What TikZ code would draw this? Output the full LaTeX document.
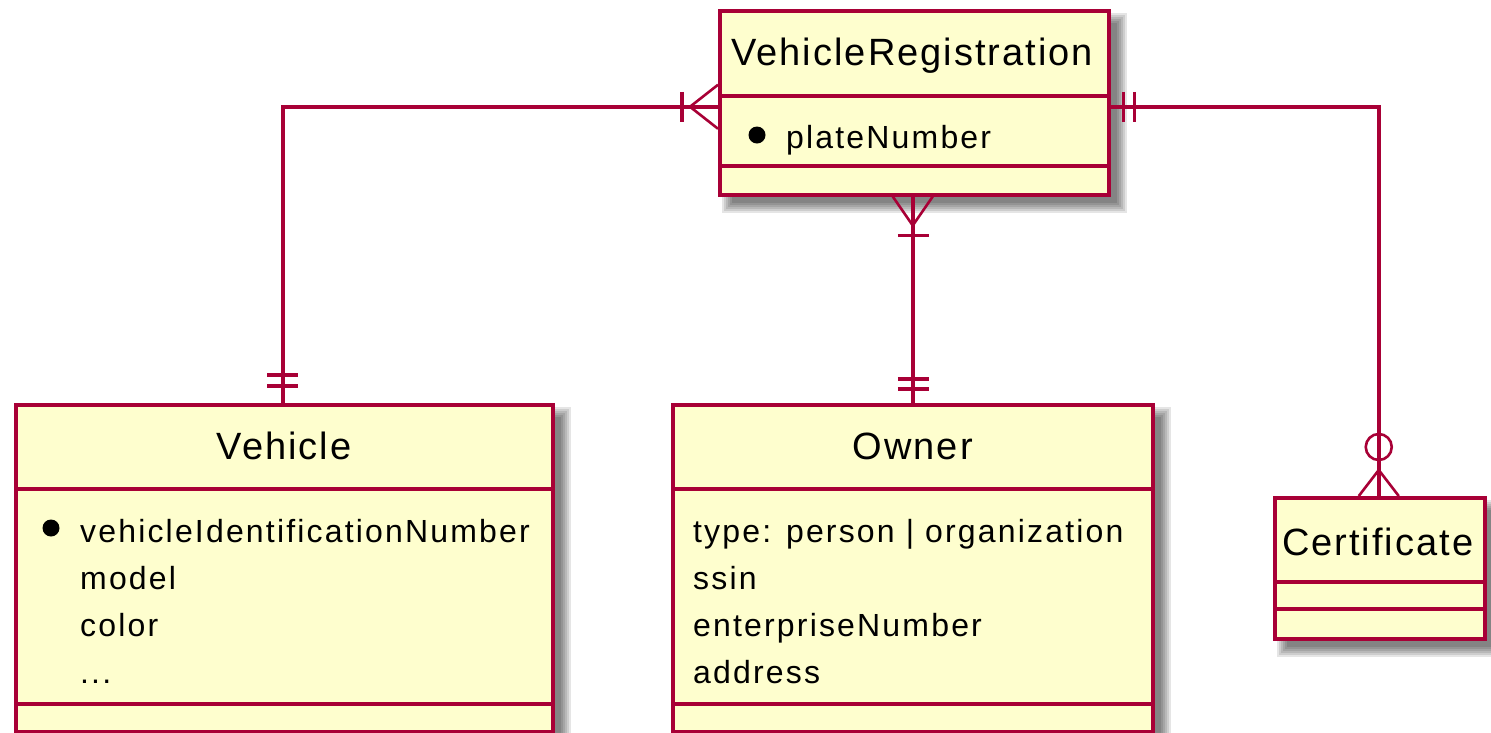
\documentclass[tikz,border=0pt]{standalone}
\usepackage{fontspec}
\setmainfont{Liberation Sans}
\newfontfamily\titlefont[LetterSpace=5.3]{Liberation Sans}
\newfontfamily\attrfont[LetterSpace=6.8]{Liberation Sans}
\usetikzlibrary{calc}
\definecolor{umlborder}{HTML}{A80036}
\definecolor{umlfill}{HTML}{FEFECE}
\pgfdeclarelayer{bg}
\pgfsetlayers{bg,main}
\tikzset{
  entity/.style={draw=umlborder, fill=umlfill, line width=3.5pt, inner sep=0pt,
    anchor=north west},
  sepline/.style={draw=umlborder, line width=3.5pt},
  etitle/.style={font=\titlefont\fontsize{38}{40}\selectfont, inner sep=0pt, anchor=base},
  eattr/.style={font=\attrfont\fontsize{32}{40}\selectfont, inner sep=0pt, anchor=base west},
  keydot/.style={fill=black, circle, inner sep=0pt, minimum size=17pt},
  rel/.style={draw=umlborder, line width=3.5pt},
  crowline/.style={draw=umlborder, line width=2.6pt},
  tick/.style={draw=umlborder, line width=3.5pt},
}
% soft drop shadow behind an entity box
\newcommand{\entityshadow}[1]{%
  \begin{pgfonlayer}{bg}
    \foreach \d in {-4,-2,0,2,4,6}
      \fill[black, opacity=0.1]
        ($(#1.north west)+(10-\d,10-\d)$) rectangle ($(#1.south east)+(10+\d,10+\d)$);
  \end{pgfonlayer}}
\begin{document}
\begin{tikzpicture}[x=1pt, y=-1pt]
\begin{pgfonlayer}{bg}
  \fill[white] (0,0) rectangle (1491,732);
\end{pgfonlayer}
\useasboundingbox (0,0) rectangle (1491,732);

% ---- VehicleRegistration ----
\node[entity, minimum width=389pt, minimum height=184pt] (vr) at (718,9) {};
\entityshadow{vr}
\draw[sepline] ($(vr.north west)+(0,87)$) -- ($(vr.north east)+(0,87)$);
\draw[sepline] ($(vr.north west)+(0,157)$) -- ($(vr.north east)+(0,157)$);
\node[etitle] (vrtitle) at ($(vr.north)+(-2,56)$) {VehicleRegistration};
\node[keydot] (vrkey) at ($(vr.north west)+(39,126)$) {};
\node[eattr] (vrplate) at ($(vr.north west)+(68,139)$) {plateNumber};

% ---- Vehicle ----
\node[entity, minimum width=537pt, minimum height=327pt] (vehicle) at (14,403) {};
\entityshadow{vehicle}
\draw[sepline] ($(vehicle.north west)+(0,86)$) -- ($(vehicle.north east)+(0,86)$);
\draw[sepline] ($(vehicle.north west)+(0,301)$) -- ($(vehicle.north east)+(0,301)$);
\node[etitle] (vehtitle) at ($(vehicle.north)+(0,56)$) {Vehicle};
\node[keydot] (vehkey) at ($(vehicle.north west)+(37,125)$) {};
\node[eattr] (veh1) at ($(vehicle.north west)+(66,139)$) {vehicleIdentificationNumber};
\node[eattr] (veh2) at ($(vehicle.north west)+(66,186)$) {model};
\node[eattr] (veh3) at ($(vehicle.north west)+(66,233)$) {color};
\node[eattr] (veh4) at ($(vehicle.north west)+(66,280)$) {...};

% ---- Owner ----
\node[entity, minimum width=480pt, minimum height=327pt] (owner) at (671,403) {};
\entityshadow{owner}
\draw[sepline] ($(owner.north west)+(0,86)$) -- ($(owner.north east)+(0,86)$);
\draw[sepline] ($(owner.north west)+(0,301)$) -- ($(owner.north east)+(0,301)$);
\node[etitle] (owntitle) at ($(owner.north)+(0,56)$) {Owner};
\node[eattr] (own1) at ($(owner.north west)+(22,139)$) {type: person | organization};
\node[eattr] (own2) at ($(owner.north west)+(22,186)$) {ssin};
\node[eattr] (own3) at ($(owner.north west)+(22,233)$) {enterpriseNumber};
\node[eattr] (own4) at ($(owner.north west)+(22,280)$) {address};

% ---- Certificate ----
\node[entity, minimum width=210pt, minimum height=141pt] (cert) at (1273,496) {};
\entityshadow{cert}
\draw[sepline] ($(cert.north west)+(0,86)$) -- ($(cert.north east)+(0,86)$);
\draw[sepline] ($(cert.north west)+(0,113)$) -- ($(cert.north east)+(0,113)$);
\node[etitle] (certtitle) at ($(cert.north)+(-2,59)$) {Certificate};

% ---- relationships ----
% Vehicle ||--|{ VehicleRegistration
\draw[rel] ($(vehicle.north)+(-1.5,0)$) |- ($(vr.west)+(0,4)$);
\draw[tick] ($(vehicle.north)+(-17,-28)$) -- ($(vehicle.north)+(14,-28)$);
\draw[tick] ($(vehicle.north)+(-17,-17)$) -- ($(vehicle.north)+(14,-17)$);
\draw[crowline] ($(vr.west)+(0,-18)$) -- ($(vr.west)+(-28,4)$) -- ($(vr.west)+(0,26)$);
\draw[tick] ($(vr.west)+(-36,-11)$) -- ($(vr.west)+(-36,19)$);

% Owner ||--|{ VehicleRegistration
\draw[rel] (vr.south -| owner.north) -- (owner.north);
\draw[crowline] ($(vr.south -| owner.north)+(-20,0)$) -- ($(vr.south -| owner.north)+(0,29)$)
  -- ($(vr.south -| owner.north)+(20,0)$);
\draw[tick] ($(vr.south -| owner.north)+(-15,39)$) -- ($(vr.south -| owner.north)+(16,39)$);
\draw[tick] ($(owner.north)+(-15,-24)$) -- ($(owner.north)+(16,-24)$);
\draw[tick] ($(owner.north)+(-15,-14)$) -- ($(owner.north)+(16,-14)$);

% VehicleRegistration ||--o{ Certificate
\draw[rel] ($(vr.east)+(0,4)$) -| ($(cert.north)+(-1,0)$);
\draw[tick] ($(vr.east)+(13,-11)$) -- ($(vr.east)+(13,19)$);
\draw[tick] ($(vr.east)+(24,-11)$) -- ($(vr.east)+(24,19)$);
\draw[crowline] ($(cert.north)+(-21,0)$) -- ($(cert.north)+(-1,-26)$) -- ($(cert.north)+(19,0)$);
\draw[crowline] ($(cert.north)+(-1,-49)$) circle[radius=13];
\end{tikzpicture}
\end{document}
